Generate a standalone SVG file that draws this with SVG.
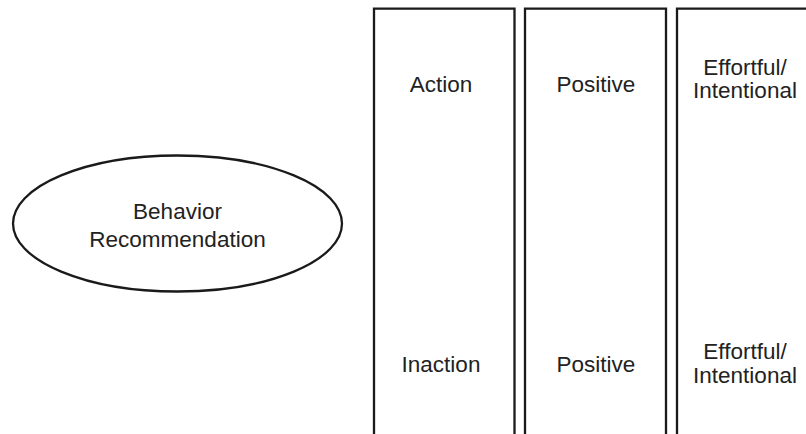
<svg xmlns="http://www.w3.org/2000/svg" width="806" height="434" viewBox="0 0 806 434">
<style>
.s{fill:none;stroke:#1a1a1a;stroke-width:2.3}
.t{font-family:"Liberation Sans",Arial,sans-serif;font-size:22.5px;fill:#222;text-anchor:middle}
</style>
<rect width="806" height="434" fill="#fff"/>
<g id="behavior">
<ellipse class="s" cx="177.5" cy="223.5" rx="164.5" ry="68"/>
<text class="t" x="177.5" y="219">Behavior</text>
<text class="t" x="177.5" y="247">Recommendation</text>
</g>
<g id="col1">
<path class="s" d="M374,440 V8.7 H514.5 V440"/>
<text class="t" x="441" y="92">Action</text>
<text class="t" x="441" y="372">Inaction</text>
</g>
<g id="col2">
<path class="s" d="M525,440 V8.7 H666 V440"/>
<text class="t" x="596" y="92">Positive</text>
<text class="t" x="596" y="372">Positive</text>
</g>
<g id="col3">
<path class="s" d="M677,440 V8.7 H830"/>
<text class="t" x="745" y="75">Effortful/</text>
<text class="t" x="745" y="98">Intentional</text>
<text class="t" x="745" y="359">Effortful/</text>
<text class="t" x="745" y="383">Intentional</text>
</g>
<g id="connectors"/>
</svg>
